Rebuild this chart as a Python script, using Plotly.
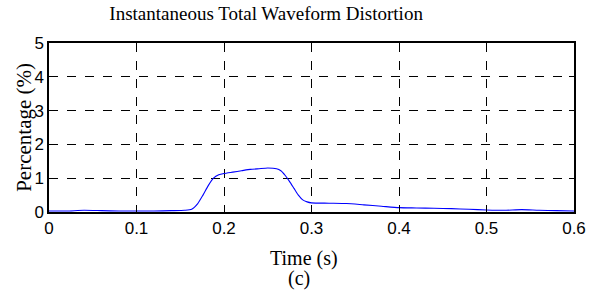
import plotly.graph_objects as go

time_s = [0, 0.02, 0.04, 0.06, 0.08, 0.1, 0.12, 0.14, 0.155, 0.163, 0.17, 0.176, 0.182, 0.188,
          0.194, 0.2, 0.21, 0.22, 0.23, 0.24, 0.25, 0.26, 0.265, 0.27, 0.275, 0.28, 0.285, 0.29,
          0.295, 0.3, 0.32, 0.34, 0.36, 0.38, 0.4, 0.42, 0.44, 0.46, 0.48, 0.5, 0.52, 0.54, 0.56,
          0.58, 0.6]
distortion_pct = [0.03, 0.03, 0.05, 0.04, 0.03, 0.03, 0.03, 0.04, 0.05, 0.08, 0.25, 0.5, 0.78, 1.0,
                  1.1, 1.14, 1.18, 1.22, 1.26, 1.28, 1.3, 1.28, 1.22, 1.08, 0.9, 0.7, 0.5, 0.36,
                  0.3, 0.27, 0.26, 0.25, 0.21, 0.17, 0.13, 0.12, 0.11, 0.1, 0.08, 0.06, 0.05, 0.07,
                  0.05, 0.04, 0.03]
x_ticks = [0, 0.1, 0.2, 0.3, 0.4, 0.5, 0.6]
x_tick_labels = ["0", "0.1", "0.2", "0.3", "0.4", "0.5", "0.6"]
y_ticks = [0, 1, 2, 3, 4, 5]

serif = "Liberation Serif, Times New Roman, serif"
sans = "Liberation Sans, Arial, sans-serif"

fig = go.Figure()
fig.add_trace(go.Scatter(x=time_s, y=distortion_pct, mode="lines",
                         line=dict(color="#0000ff", width=1.1, shape="spline", smoothing=0.6)))

axis_common = dict(showline=True, linecolor="black", linewidth=1.5, mirror="ticks",
                   ticks="inside", ticklen=5, tickcolor="black",
                   showgrid=True, gridcolor="black", gridwidth=1, griddash="dash",
                   zeroline=False, tickfont=dict(family=sans, size=17, color="black"))

fig.update_layout(
    width=598, height=290,
    margin=dict(l=49, r=17, t=43, b=78),
    paper_bgcolor="white", plot_bgcolor="white",
    showlegend=False,
    title=dict(text="Instantaneous Total Waveform Distortion", xref="paper", x=(269 - 49) / 532,
               xanchor="center", y=1 - 13 / 290, yanchor="middle",
               font=dict(family=serif, size=19, color="black")),
    xaxis=dict(range=[0, 0.6], tickvals=x_ticks, ticktext=x_tick_labels, **axis_common),
    yaxis=dict(range=[0, 5], tickvals=y_ticks, ticklabelstandoff=0, **axis_common),
    annotations=[
        dict(text="Percentage (%)", xref="paper", yref="paper", x=-(49 - 23) / 532, y=0.5,
             xanchor="center", yanchor="middle", textangle=-90, showarrow=False,
             font=dict(family=serif, size=21, color="black")),
        dict(text="Time (s)", xref="paper", yref="paper", x=(307 - 49) / 532, y=-(258 - 212) / 169,
             showarrow=False, xanchor="center", yanchor="middle",
             font=dict(family=serif, size=20, color="black")),
        dict(text="(c)", xref="paper", yref="paper", x=(302 - 49) / 532, y=-(278 - 212) / 169,
             showarrow=False, xanchor="center", yanchor="middle",
             font=dict(family=serif, size=20, color="black")),
    ],
)

fig.write_html("out.html", config={"displayModeBar": False},
               post_script="document.body.style.margin='0';document.body.style.overflow='hidden';")
